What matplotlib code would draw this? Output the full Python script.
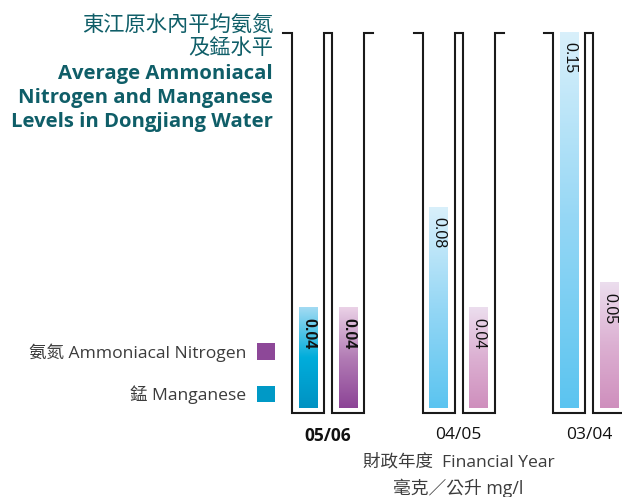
import numpy as np
import matplotlib
matplotlib.use("Agg")
import matplotlib.pyplot as plt
from matplotlib.colors import LinearSegmentedColormap
from matplotlib.patches import Patch

# average levels in Dongjiang water, mg/l
years = ["05/06", "04/05", "03/04"]
manganese = [0.04, 0.08, 0.15]
nitrogen = [0.04, 0.04, 0.05]

title_zh = "東江原水內平均氨氮\n及錳水平"
title_en = "Average Ammoniacal\nNitrogen and Manganese\nLevels in Dongjiang Water"
legend_labels = ["氨氮 Ammoniacal Nitrogen", "錳 Manganese"]
xlabel_lines = ["財政年度  Financial Year", "毫克／公升 mg/l"]

FONTS = ["Open Sans", "Noto Sans CJK TC", "DejaVu Sans"]
plt.rcParams["font.family"] = FONTS

TEAL = "#0f5e68"
GREY = "#3c3c3c"

# gradients (bottom, middle, top) - current year is darker
mn_cols = [["#0092c2", "#00addb", "#a3dbf3"],
           ["#5bc4f0", "#95d7f5", "#d9f0fb"],
           ["#5bc4f0", "#95d7f5", "#d9f0fb"]]
n_cols = [["#8c4496", "#b27cb5", "#ebd2e7"],
          ["#cf8fbd", "#dcb0d2", "#ecdeee"],
          ["#cf8fbd", "#dcb0d2", "#ecdeee"]]

W, H = 622, 497
fig = plt.figure(figsize=(W / 100, H / 100), dpi=100)

# one x unit = distance between year groups
step = 130.5
x0_px, y0_px, ytop_px = 328, 408, 32
ax = fig.add_axes([0, (H - y0_px) / H, 1, (y0_px - ytop_px) / H])
ax.set_xlim(-x0_px / step, (W - x0_px) / step)
ax.set_ylim(0, 0.15)
px = 1 / step
ypx = 0.15 / (y0_px - ytop_px)

bar_w = 19 * px
offset = 20 * px
grad = np.linspace(0, 1, 256).reshape(-1, 1)


def gradient_bar(xc, value, cols):
    cmap = LinearSegmentedColormap.from_list("g", cols)
    ax.imshow(grad, cmap=cmap, origin="lower", aspect="auto",
              extent=(xc - bar_w / 2, xc + bar_w / 2, 0, value), zorder=2)


for i, yr in enumerate(years):
    bold = "bold" if i == 0 else "normal"
    for xc, val, cols in [(i - offset, manganese[i], mn_cols[i]),
                          (i + offset, nitrogen[i], n_cols[i])]:
        gradient_bar(xc, val, cols)
        ax.text(xc + 0.5 * px, val - 10 * ypx, f"{val:.2f}", rotation=-90,
                ha="center", va="top", fontsize=11.5, fontweight=bold,
                family=["Liberation Sans"], color="#111111", zorder=3)

    # the two open-topped tubes around each pair of bars
    top = 0.15 - 1 * ypx
    bot = -5 * ypx
    tx = [i - 45 * px, i - 36 * px, i - 36 * px, i - 4 * px, i - 4 * px,
          i + 4 * px, i + 4 * px, i + 36 * px, i + 36 * px, i + 45 * px]
    ty = [top, top, bot, bot, top, top, bot, bot, top, top]
    ax.plot(tx, ty, color="#1a1a1a", lw=1.5, solid_joinstyle="miter",
            clip_on=False, zorder=4)

ax.set_xticks(range(len(years)))
ax.set_xticklabels(years, fontsize=12.5, color="#111111")
ax.get_xticklabels()[0].set_fontweight("bold")
ax.tick_params(axis="x", length=0, pad=14)
ax.set_yticks([])
for s in ax.spines.values():
    s.set_visible(False)
ax.patch.set_alpha(0)

ax.annotate(xlabel_lines[0], xy=(1, 0), xycoords=("data", "axes fraction"),
            xytext=(0, -54), textcoords="offset pixels", ha="center",
            va="center", fontsize=12.6, color=GREY)
ax.annotate(xlabel_lines[1], xy=(1, 0), xycoords=("data", "axes fraction"),
            xytext=(0, -80), textcoords="offset pixels", ha="center",
            va="center", fontsize=12.8, color=GREY)

fig.text(273 / W, 1 - 15 / H, title_zh, ha="right", va="top", fontsize=15.3,
         color=TEAL, linespacing=1.2)
fig.text(273 / W, 1 - 64 / H, title_en, ha="right", va="top", fontsize=14.6,
         fontweight="bold", color=TEAL, linespacing=1.27)

handles = [Patch(facecolor="#8d4898"), Patch(facecolor="#0099c6")]
leg = fig.legend(handles, legend_labels, loc="upper right",
                 bbox_to_anchor=(275 / W, 1 - 343 / H), frameon=False,
                 markerfirst=False, fontsize=12.6, handlelength=1.05,
                 handleheight=1.05, handletextpad=0.6, labelspacing=1.35,
                 borderaxespad=0, borderpad=0)
for t in leg.get_texts():
    t.set_color(GREY)

fig.savefig("out.png", dpi=100)
